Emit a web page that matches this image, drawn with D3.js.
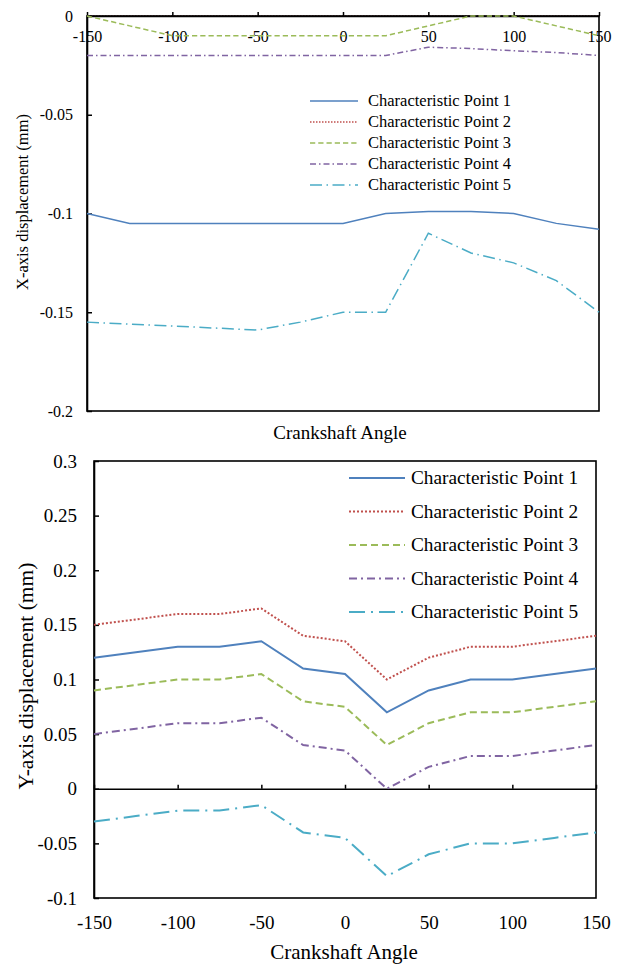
<!DOCTYPE html>
<html>
<head>
<meta charset="utf-8">
<script src="https://cdn.jsdelivr.net/npm/d3@7"></script>
<style>
  body { margin: 0; background: #fff; }
</style>
</head>
<body>
<svg id="chart" width="623" height="965"></svg>
<script>
// crank angles shared by both panels
const angles = [-150, -125, -100, -75, -50, -25, 0, 25, 50, 75, 100, 125, 150];
const seriesNames = ["Characteristic Point 1", "Characteristic Point 2", "Characteristic Point 3",
  "Characteristic Point 4", "Characteristic Point 5"];
const seriesColors = ["#4F81BD", "#C0504D", "#9BBB59", "#8064A2", "#4BACC6"];

// X-axis displacement (mm), top panel
const xPoint1 = [-0.1, -0.105, -0.105, -0.105, -0.105, -0.105, -0.105, -0.1, -0.099, -0.099, -0.1, -0.105, -0.108];
const xPoint2 = [0, 0, 0, 0, 0, 0, 0, 0, 0, 0, 0, 0, 0];
const xPoint3 = [0, -0.005, -0.01, -0.01, -0.01, -0.01, -0.01, -0.01, -0.005, 0, 0, -0.005, -0.01];
const xPoint4 = [-0.02, -0.02, -0.02, -0.02, -0.02, -0.02, -0.02, -0.02, -0.0158, -0.0165, -0.0176, -0.0185, -0.02];
const xPoint5 = [-0.155, -0.156, -0.157, -0.158, -0.159, -0.155, -0.15, -0.15, -0.11, -0.12, -0.125, -0.134, -0.15];

// Y-axis displacement (mm), bottom panel
const yPoint1 = [0.12, 0.125, 0.13, 0.13, 0.135, 0.11, 0.105, 0.07, 0.09, 0.1, 0.1, 0.105, 0.11];
const yPoint2 = [0.15, 0.155, 0.16, 0.16, 0.165, 0.14, 0.135, 0.1, 0.12, 0.13, 0.13, 0.135, 0.14];
const yPoint3 = [0.09, 0.095, 0.1, 0.1, 0.105, 0.08, 0.075, 0.04, 0.06, 0.07, 0.07, 0.075, 0.08];
const yPoint4 = [0.05, 0.055, 0.06, 0.06, 0.065, 0.04, 0.035, 0, 0.02, 0.03, 0.03, 0.035, 0.04];
const yPoint5 = [-0.03, -0.025, -0.02, -0.02, -0.015, -0.04, -0.045, -0.08, -0.06, -0.05, -0.05, -0.045, -0.04];

const xTicks = [-150, -100, -50, 0, 50, 100, 150];
const topYTicks = [0, -0.05, -0.1, -0.15, -0.2];
const bottomYTicks = [0.3, 0.25, 0.2, 0.15, 0.1, 0.05, 0, -0.05, -0.1];

const FONT = "'Liberation Serif', 'Times New Roman', Times, serif";
const fmt = d => String(+d.toFixed(2));
const svg = d3.select("#chart");

// dash styles: solid, dotted, dashed, dash-dot, long dash-dot (scaled by line width)
const dashes = w => [null, `${w},${w}`, `${3.5*w},${2*w}`, `${4*w},${2*w},${w},${2*w}`, `${8*w},${3*w},${w},${3*w}`];

function drawPanel(opt) {
  const x = d3.scaleLinear().domain([-150, 150]).range([opt.left, opt.right]);
  const y = d3.scaleLinear().domain(opt.yDomain).range([opt.bottom, opt.top]);
  const g = svg.append("g").attr("font-family", FONT);
  const dash = dashes(opt.lineWidth);

  const line = d3.line().x((d, i) => x(angles[i])).y(d => y(d));

  // lines that sit on the axis go under it
  opt.series.forEach((s, i) => {
    if (!opt.under.includes(i)) return;
    g.append("path").attr("d", line(s)).attr("fill", "none")
      .attr("stroke", seriesColors[i]).attr("stroke-width", opt.lineWidth)
      .attr("stroke-dasharray", dash[i]);
  });

  // plot frame
  g.append("rect")
    .attr("x", opt.left).attr("y", opt.top)
    .attr("width", opt.right - opt.left).attr("height", opt.bottom - opt.top)
    .attr("fill", "none").attr("stroke", "#000").attr("stroke-width", 1.6);

  const styleAxis = a => {
    a.attr("font-family", FONT).attr("font-size", opt.tickFont);
    a.select(".domain").attr("stroke-width", 1.6);
    a.selectAll(".tick line").attr("stroke-width", 1.5);
    a.selectAll("text").attr("fill", "#000");
  };

  // left axis, ticks inward
  g.append("g")
    .attr("transform", `translate(${opt.left},0)`)
    .call(d3.axisLeft(y).tickValues(opt.yTicks).tickFormat(fmt)
      .tickSizeInner(-5).tickSizeOuter(0).tickPadding(opt.yPad))
    .call(styleAxis);

  // horizontal axis line at zero, ticks pointing up
  g.append("g")
    .attr("transform", `translate(0,${y(0)})`)
    .call(d3.axisBottom(x).tickValues(xTicks).tickFormat(opt.labelsAtZero ? fmt : "")
      .tickSizeInner(-4).tickSizeOuter(0).tickPadding(opt.xPad))
    .call(styleAxis);

  if (!opt.labelsAtZero) {
    const lowAxis = g.append("g")
      .attr("transform", `translate(0,${opt.bottom})`)
      .call(d3.axisBottom(x).tickValues(xTicks).tickFormat(fmt)
        .tickSize(0).tickPadding(opt.xPad))
      .call(styleAxis);
    lowAxis.select(".domain").remove();
  }

  // data lines
  opt.series.forEach((s, i) => {
    if (opt.under.includes(i)) return;
    g.append("path").attr("d", line(s)).attr("fill", "none")
      .attr("stroke", seriesColors[i]).attr("stroke-width", opt.lineWidth)
      .attr("stroke-dasharray", dash[i]);
  });

  // axis titles
  g.append("text")
    .attr("x", opt.xTitle[0]).attr("y", opt.xTitle[1])
    .attr("text-anchor", "middle").attr("font-size", opt.titleFont)
    .text("Crankshaft Angle");
  g.append("text")
    .attr("transform", `translate(${opt.yTitle[0]},${opt.yTitle[1]}) rotate(-90)`)
    .attr("text-anchor", "middle").attr("font-size", opt.yTitleFont)
    .text(opt.yLabel);

  // legend
  const leg = g.append("g");
  seriesNames.forEach((name, i) => {
    const ly = opt.legend.y + i * opt.legend.step;
    leg.append("line")
      .attr("x1", opt.legend.x1).attr("x2", opt.legend.x2)
      .attr("y1", ly).attr("y2", ly)
      .attr("stroke", seriesColors[i]).attr("stroke-width", opt.lineWidth)
      .attr("stroke-dasharray", dash[i]);
    leg.append("text")
      .attr("x", opt.legend.tx).attr("y", ly).attr("dy", "0.33em")
      .attr("font-size", opt.legend.font)
      .text(name);
  });
}

drawPanel({
  left: 87, right: 599, top: 16, bottom: 411,
  yDomain: [-0.2, 0], yTicks: topYTicks,
  series: [xPoint1, xPoint2, xPoint3, xPoint4, xPoint5], under: [1],
  lineWidth: 1.5, tickFont: 16, yPad: 14, xPad: 15, labelsAtZero: true,
  titleFont: 19, yTitleFont: 16.5,
  xTitle: [340, 439], yTitle: [28, 202], yLabel: "X-axis displacement (mm)",
  legend: { x1: 310, x2: 358, tx: 368, y: 101, step: 21, font: 16.5 }
});

drawPanel({
  left: 94, right: 596, top: 461, bottom: 898,
  yDomain: [-0.1, 0.3], yTicks: bottomYTicks,
  series: [yPoint1, yPoint2, yPoint3, yPoint4, yPoint5], under: [],
  lineWidth: 2, tickFont: 19, yPad: 17, xPad: 18, labelsAtZero: false,
  titleFont: 21, yTitleFont: 21.5,
  xTitle: [344, 959], yTitle: [33, 676], yLabel: "Y-axis displacement (mm)",
  legend: { x1: 349, x2: 405, tx: 411, y: 478, step: 33.5, font: 19.3 }
});
</script>
</body>
</html>
